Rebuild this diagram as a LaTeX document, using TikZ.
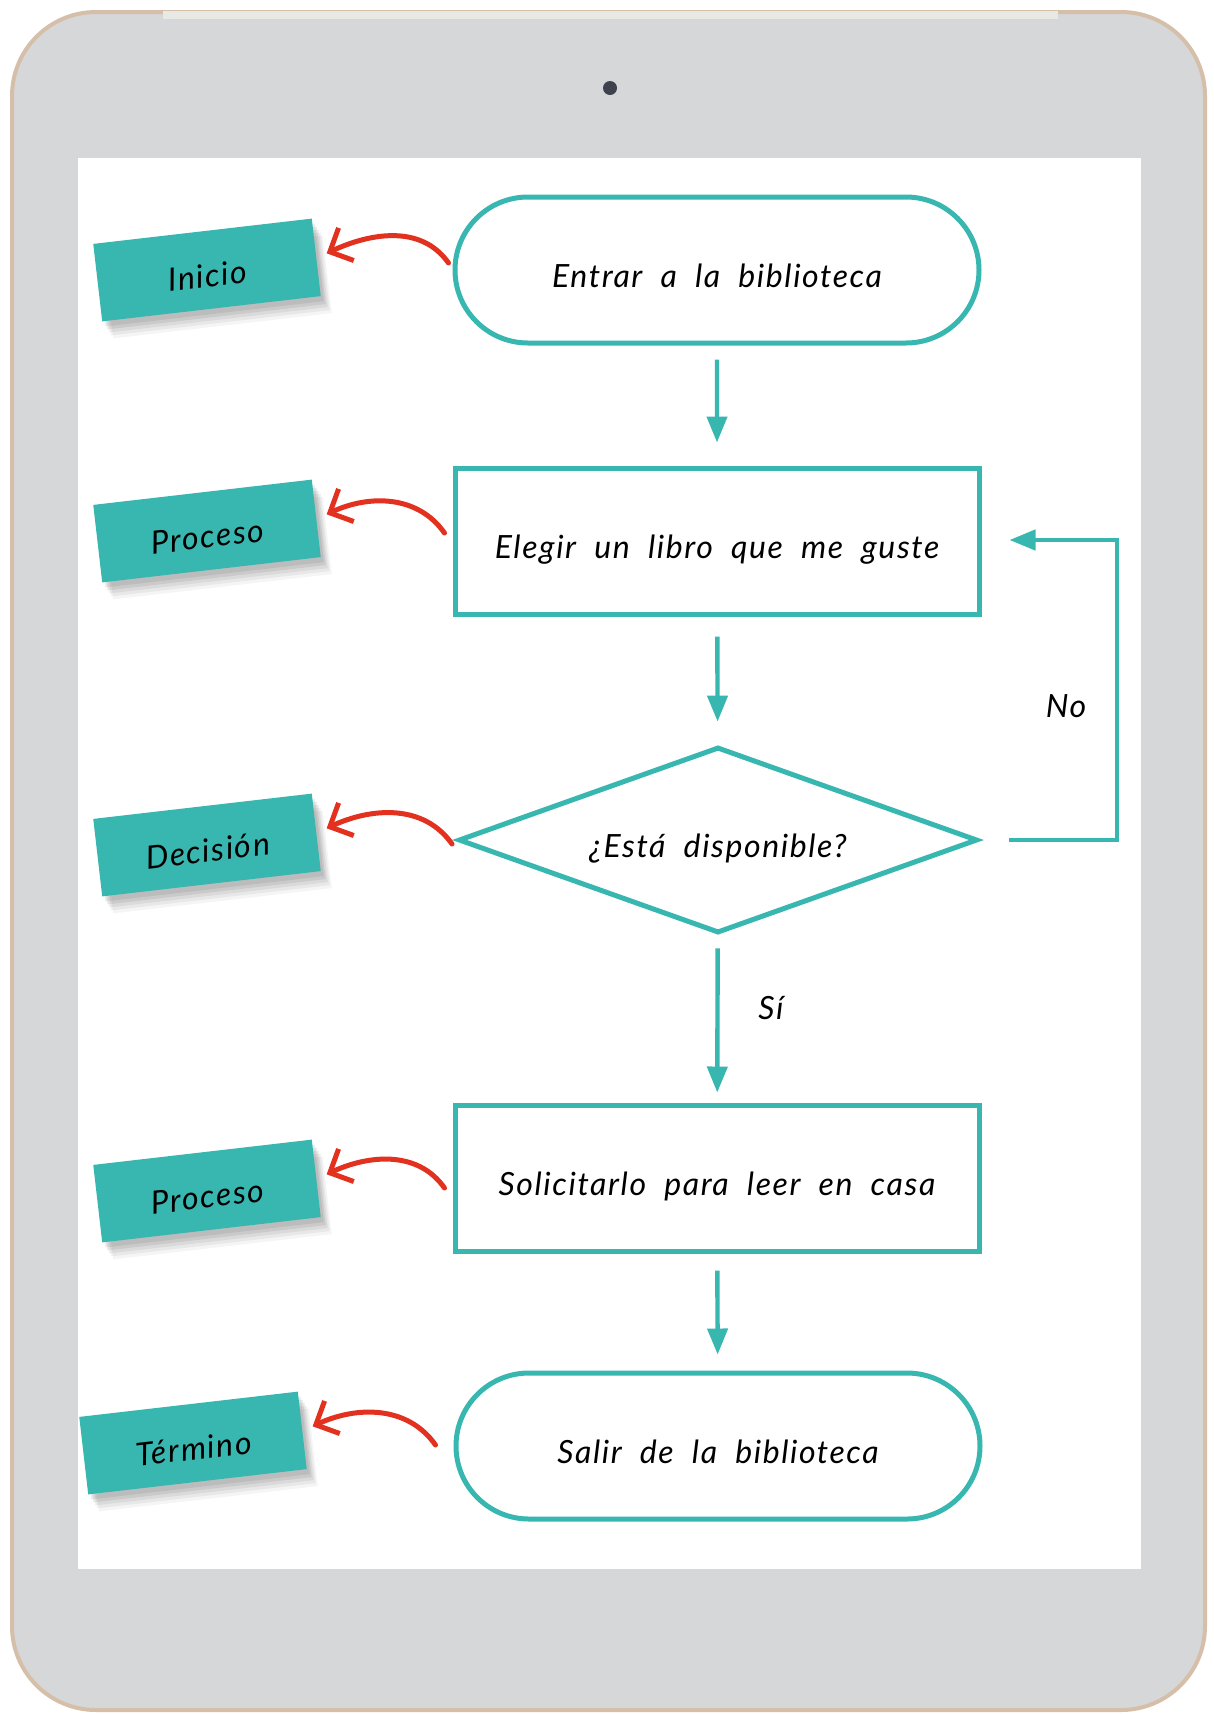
\documentclass[tikz,border=0pt]{standalone}
\usepackage{fontspec}
\setmainfont{Lato}[LetterSpace=5, WordSpace=2]
\usetikzlibrary{shapes.geometric,shapes.misc,arrows.meta,shadows}
\definecolor{teal1}{HTML}{38B7B1}
\definecolor{redarr}{HTML}{E2321F}
\definecolor{tabgrey}{HTML}{D6D7D9}
\definecolor{tabgold}{HTML}{D6BFA8}
\definecolor{stripc}{HTML}{E8E8E5}
\definecolor{camc}{HTML}{3E424C}
\tikzset{
  term/.style={rounded rectangle, draw=teal1, line width=2.5pt, minimum width=262pt, minimum height=73pt, inner sep=0pt, text height=17pt, text depth=0pt},
  procbox/.style={rectangle, draw=teal1, line width=2.5pt, minimum width=262pt, minimum height=73pt, inner sep=0pt, text height=17pt, text depth=0pt},
  decbox/.style={diamond, draw=teal1, line width=2.5pt, minimum width=259.5pt, minimum height=93pt, aspect=2.79, inner sep=0pt, text height=17pt, text depth=0pt},
  flow/.style={draw=teal1, line width=2.2pt, -{Triangle[length=13pt,width=10pt]}},
  tag/.style={fill=teal1, minimum width=110pt, minimum height=39pt, inner sep=0pt, rotate=6.6,
    text height=17pt, text depth=0pt,
    drop shadow={shadow xshift=1.5pt, shadow yshift=-2.5pt, fill=black, opacity=0.07},
    drop shadow={shadow xshift=2.5pt, shadow yshift=-4pt, fill=black, opacity=0.07},
    drop shadow={shadow xshift=3.5pt, shadow yshift=-5.5pt, fill=black, opacity=0.06},
    drop shadow={shadow xshift=4.5pt, shadow yshift=-7pt, fill=black, opacity=0.05},
    drop shadow={shadow xshift=5.5pt, shadow yshift=-8.5pt, fill=black, opacity=0.04}},
  note/.style={draw=redarr, line width=2.5pt, line cap=round, line join=round, -{Straight Barb[length=9pt,width=18pt]}},
  lbl/.style={inner sep=0pt}
}
\begin{document}
\begin{tikzpicture}[x=0.5pt,y=0.5pt, font=\fontsize{16}{19}\selectfont\itshape]
\useasboundingbox (0,0) rectangle (1214,-1714);
\fill[white] (0,0) rectangle (1214,-1714);
% tablet
\filldraw[fill=tabgrey, draw=tabgold, line width=2pt, rounded corners=42pt] (12,-12) rectangle (1205,-1710);
\fill[stripc] (163,-11) rectangle (1058,-19);
\fill[white] (78,-158) rectangle (1141,-1569);
\fill[camc] (610,-88) circle[radius=3.5pt];
% flowchart
\node[term] (s) at (717,-270) {Entrar a la biblioteca};
\node[procbox] (p1) at (717,-541) {Elegir un libro que me guste};
\node[decbox] (d) at (718,-840) {¿Está disponible?};
\node[procbox] (p2) at (717,-1178) {Solicitarlo para leer en casa};
\node[term] (e) at (718,-1446) {Salir de la biblioteca};
\draw[flow, shorten <=7pt, shorten >=11.5pt] (s) -- (p1);
\draw[flow, shorten <=10pt, shorten >=11.5pt] (p1) -- (d);
\draw[flow, shorten <=6.5pt, shorten >=5pt] (d) -- (p2);
\draw[flow, shorten <=8.5pt, shorten >=8pt] (p2) -- (e);
\coordinate (lp) at (1117,-540);
\draw[flow, shorten <=14.5pt, shorten >=14pt] (d.east) -| (lp) -- (p1.east |- lp);
\node[lbl] (no) at (1066,-706) {No};
\node[lbl] (si) at (771,-1008) {Sí};
% tags
\node[tag] (t1) at (207,-270) {Inicio};
\node[tag] (t2) at (207,-531) {Proceso};
\node[tag] (t3) at (207,-845) {Decisión};
\node[tag] (t4) at (207,-1191) {Proceso};
\node[tag] (t5) at (193,-1443) {Término};
% red arrows
\draw[note] ([xshift=-2pt,yshift=3.5pt]s.west) to[out=125,in=25] ([xshift=5pt,yshift=2pt]t1.east);
\draw[note] ([xshift=-4pt,yshift=4pt]p1.west) to[out=125,in=25] ([xshift=5pt,yshift=2pt]t2.east);
\draw[note] ([xshift=-2pt,yshift=-2pt]d.west) to[out=125,in=25] ([xshift=5pt,yshift=2pt]t3.east);
\draw[note] ([xshift=-4pt,yshift=-5pt]p2.west) to[out=125,in=25] ([xshift=5pt,yshift=2pt]t4.east);
\draw[note] ([xshift=-9pt,yshift=0.5pt]e.west) to[out=125,in=25] ([xshift=5pt,yshift=2pt]t5.east);
\end{tikzpicture}
\end{document}
